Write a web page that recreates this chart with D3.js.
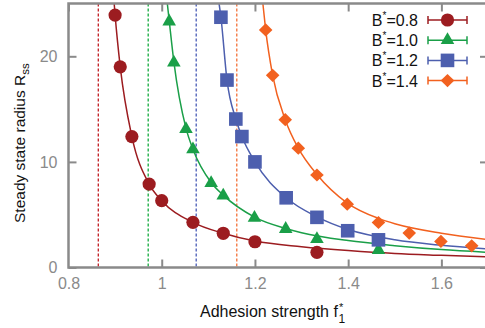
<!DOCTYPE html>
<html>
<head>
<meta charset="utf-8">
<script src="https://cdn.jsdelivr.net/npm/d3@7"></script>
<style>
  html, body { margin: 0; padding: 0; background: #fff; }
  svg { display: block; font-family: "Liberation Sans", Arial, sans-serif; }
</style>
</head>
<body>
<div id="chart"></div>
<script>
/* Steady state radius vs adhesion strength, four B* values */

var labels   = ['0.8', '1.0', '1.2', '1.4'];
var fCrit    = [0.864, 0.971, 1.074, 1.161];   /* dashed vertical lines */

/* measured points */
var redF    = [0.900, 0.911, 0.936, 0.973, 1.000, 1.067, 1.132, 1.200, 1.333];
var redR    = [23.9, 19.0, 12.4, 7.9, 6.33, 4.28, 3.24, 2.44, 1.44];
var greenF  = [1.016, 1.026, 1.052, 1.067, 1.106, 1.132, 1.199, 1.266, 1.333, 1.465];
var greenR  = [23.3, 19.4, 13.1, 11.2, 8.0, 6.8, 4.7, 3.65, 2.7, 1.66];
var blueF   = [1.127, 1.140, 1.159, 1.172, 1.200, 1.267, 1.333, 1.399, 1.465];
var blueR   = [23.7, 17.75, 14.06, 12.4, 10.0, 6.6, 4.75, 3.48, 2.62];
var orangeF = [1.223, 1.238, 1.265, 1.293, 1.333, 1.398, 1.465, 1.531, 1.599, 1.665];
var orangeR = [22.5, 18.2, 14.0, 11.3, 8.76, 6.0, 4.26, 3.26, 2.47, 2.05];

/* fitted curves */
var redFitF    = [0.898, 0.900, 0.911, 0.936, 0.973, 1.0, 1.067, 1.132, 1.2, 1.3, 1.4, 1.5, 1.6, 1.7];
var redFitR    = [25, 23.9, 19.0, 12.4, 7.9, 6.33, 4.28, 3.24, 2.5, 1.97, 1.6, 1.32, 1.15, 1.0];
var greenFitF  = [1.012, 1.016, 1.026, 1.052, 1.067, 1.106, 1.132, 1.2, 1.266, 1.3, 1.4, 1.5, 1.6, 1.7];
var greenFitR  = [25, 23.4, 19.5, 13.2, 11.2, 8.05, 6.85, 4.75, 3.7, 3.3, 2.55, 2.07, 1.7, 1.44];
var blueFitF   = [1.123, 1.127, 1.14, 1.159, 1.172, 1.2, 1.267, 1.333, 1.4, 1.5, 1.6, 1.7];
var blueFitR   = [25, 23.7, 17.75, 14.06, 12.4, 10.0, 6.6, 4.8, 3.6, 2.62, 2.1, 1.75];
var orangeFitF = [1.217, 1.223, 1.238, 1.265, 1.293, 1.333, 1.398, 1.465, 1.5, 1.6, 1.7];
var orangeFitR = [25, 22.5, 18.2, 14.0, 11.3, 8.8, 6.1, 4.65, 4.15, 3.25, 2.65];

var xTicks = [0.8, 1, 1.2, 1.4, 1.6];
var xTickLabels = ['0.8', '1', '1.2', '1.4', '1.6'];
var yTicks = [0, 10, 20];

(function draw() {
  var W = 485, H = 328;
  var L = 68.5, R = 488, T = 3.5, B = 267.5;

  var colors = ['#9c1c20', '#1a9f48', '#4d5fae', '#f2611f'];
  var dashCols = ['#c4262c', '#22b04a', '#5566bb', '#f47a45'];
  var shapes = ['circle', 'triangle', 'square', 'diamond'];
  var axisCol = '#8a8a8a';

  var pts = [[redF, redR], [greenF, greenR], [blueF, blueR], [orangeF, orangeR]];
  var fits = [[redFitF, redFitR], [greenFitF, greenFitR], [blueFitF, blueFitR], [orangeFitF, orangeFitR]];

  var svg = d3.select('#chart').append('svg')
    .attr('width', W).attr('height', H);

  var x = d3.scaleLinear().domain([0.8, 1.7]).range([L, R]);
  var y = d3.scaleLinear().domain([0, 25]).range([B, T]);

  svg.append('clipPath').attr('id', 'plotClip')
    .append('rect').attr('x', L).attr('y', T).attr('width', R - L).attr('height', B - T);

  var plot = svg.append('g').attr('clip-path', 'url(#plotClip)');

  /* dashed critical lines */
  fCrit.forEach(function (f, i) {
    plot.append('line')
      .attr('x1', x(f)).attr('x2', x(f))
      .attr('y1', T).attr('y2', B)
      .attr('stroke', dashCols[i]).attr('stroke-width', 1.4)
      .attr('stroke-dasharray', '3,2');
  });

  /* fitted curves */
  var line = d3.line()
    .x(function (d) { return x(d[0]); })
    .y(function (d) { return y(d[1]); })
    .curve(d3.curveMonotoneX);

  fits.forEach(function (s, i) {
    var data = s[0].map(function (f, j) { return [f, s[1][j]]; });
    plot.append('path').datum(data)
      .attr('d', line)
      .attr('fill', 'none')
      .attr('stroke', colors[i]).attr('stroke-width', 1.5);
  });

  function marker(g, shape, cx, cy, col) {
    var p;
    if (shape === 'circle') {
      p = g.append('circle').attr('cx', cx).attr('cy', cy).attr('r', 6.6);
    } else if (shape === 'square') {
      p = g.append('rect').attr('x', cx - 6.8).attr('y', cy - 6.8).attr('width', 13.6).attr('height', 13.6);
    } else if (shape === 'triangle') {
      p = g.append('path').attr('d', d3.symbol(d3.symbolTriangle, 80)())
        .attr('transform', 'translate(' + cx + ',' + cy + ')');
    } else {
      p = g.append('path').attr('d', 'M0,-6.6L6.8,0L0,6.6L-6.8,0Z')
        .attr('transform', 'translate(' + cx + ',' + cy + ')');
    }
    p.attr('fill', col);
  }

  /* data markers */
  pts.forEach(function (s, i) {
    s[0].forEach(function (f, j) {
      marker(plot, shapes[i], x(f), y(s[1][j]), colors[i]);
    });
  });

  /* frame */
  svg.append('path')
    .attr('d', 'M' + R + ',' + B + 'H' + L + 'V' + T + 'H' + R)
    .attr('fill', 'none').attr('stroke', axisCol).attr('stroke-width', 2.5);

  /* axes (inward ticks) */
  var xAxis = svg.append('g').attr('transform', 'translate(0,' + B + ')')
    .call(d3.axisBottom(x).tickValues(xTicks)
      .tickFormat(function (d, i) { return xTickLabels[i]; })
      .tickSize(-8).tickPadding(10));
  var xTop = svg.append('g').attr('transform', 'translate(0,' + T + ')')
    .call(d3.axisTop(x).tickValues(xTicks).tickFormat('').tickSize(-8));
  var yAxis = svg.append('g').attr('transform', 'translate(' + L + ',0)')
    .call(d3.axisLeft(y).tickValues(yTicks).tickSize(-8).tickPadding(11));
  var yRight = svg.append('g').attr('transform', 'translate(' + R + ',0)')
    .call(d3.axisRight(y).tickValues(yTicks).tickFormat('').tickSize(-8));

  [xAxis, xTop, yAxis, yRight].forEach(function (g) {
    g.select('.domain').remove();
    g.selectAll('.tick line').attr('stroke', axisCol).attr('stroke-width', 2);
    g.selectAll('.tick text')
      .attr('fill', '#8a8a8a')
      .style('font-family', '"Liberation Sans", Arial, sans-serif')
      .style('font-size', '16px');
  });
  xAxis.selectAll('.tick').filter(function (d) { return d === 0.8; }).select('line').remove();

  /* x title */
  var xt = svg.append('text')
    .attr('x', 200).attr('y', 316.5)
    .attr('font-size', 16).attr('fill', '#111')
    .text('Adhesion strength f');
  var xe = 200 + xt.node().getComputedTextLength();
  svg.append('text').attr('x', xe + 1).attr('y', 311)
    .attr('font-size', 11).attr('fill', '#111').text('*');
  svg.append('text').attr('x', xe + 0.5).attr('y', 322.5)
    .attr('font-size', 12).attr('fill', '#111').text('1');

  /* y title */
  var yt = svg.append('text')
    .attr('transform', 'translate(25,223) rotate(-90)')
    .attr('font-size', 15.5).attr('fill', '#111');
  yt.append('tspan').text('Steady state radius R');
  yt.append('tspan').attr('font-size', 11.5).attr('dy', 4).text('ss');

  /* legend */
  var lg = svg.append('g');
  labels.forEach(function (lab, i) {
    var cy = 20 + i * 20.2;
    var t = lg.append('text')
      .attr('x', 418).attr('y', cy + 6)
      .attr('text-anchor', 'end')
      .attr('font-size', 16).attr('fill', '#111');
    t.append('tspan').text('B');
    t.append('tspan').attr('font-size', 10).attr('dy', -7).text('*');
    t.append('tspan').attr('dy', 7).text('=' + lab);

    lg.append('line').attr('x1', 428).attr('x2', 467).attr('y1', cy).attr('y2', cy)
      .attr('stroke', colors[i]).attr('stroke-width', 1.5);
    [428, 467].forEach(function (ex) {
      lg.append('line').attr('x1', ex).attr('x2', ex).attr('y1', cy - 4).attr('y2', cy + 4)
        .attr('stroke', colors[i]).attr('stroke-width', 1.5);
    });
    marker(lg, shapes[i], 447.5, cy, colors[i]);
  });
}());
</script>
</body>
</html>
